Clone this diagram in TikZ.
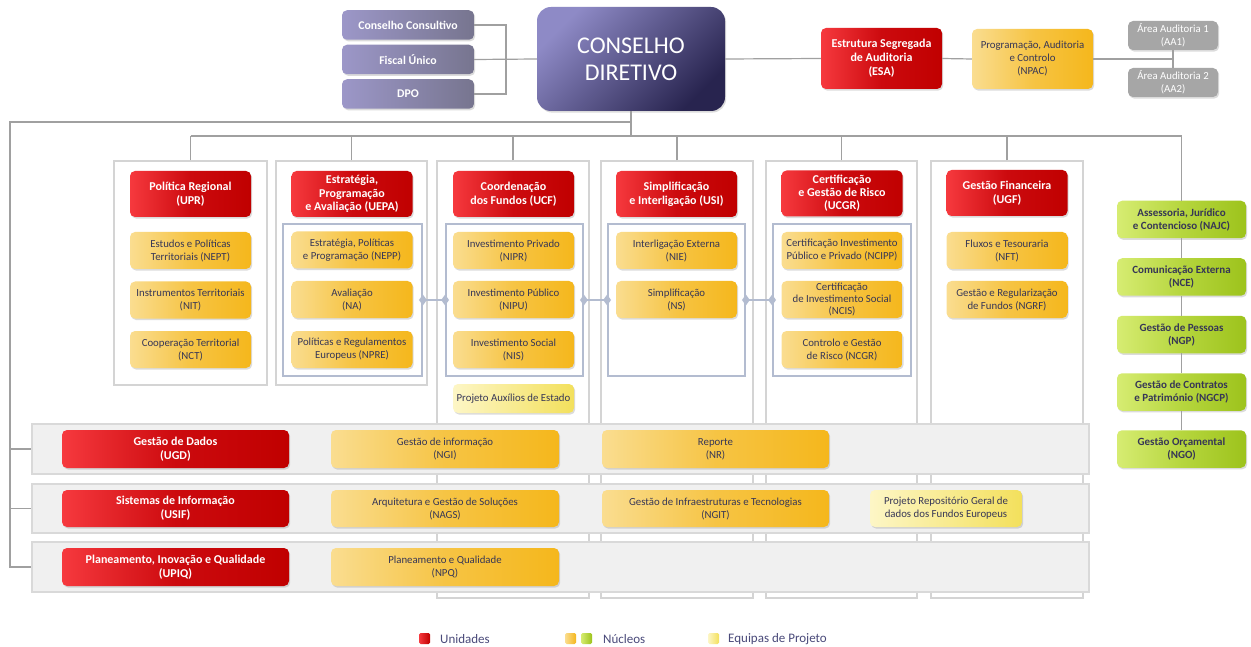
\documentclass[tikz,border=0pt]{standalone}
\usepackage{fontspec}
\setmainfont{Carlito}
\usetikzlibrary{shadows,shapes.geometric}
\definecolor{redL}{HTML}{F6393E}
\definecolor{redM}{HTML}{CC0A0E}
\definecolor{redR}{HTML}{C00000}
\definecolor{yelL}{HTML}{FADD90}
\definecolor{yelM}{HTML}{F6C444}
\definecolor{yelR}{HTML}{F5B71C}
\definecolor{ltyL}{HTML}{FDF6C6}
\definecolor{ltyR}{HTML}{F3E05C}
\definecolor{grnL}{HTML}{D6EC72}
\definecolor{grnM}{HTML}{B6D63E}
\definecolor{grnR}{HTML}{9DC31C}
\definecolor{sideL}{HTML}{9C97C8}
\definecolor{sideR}{HTML}{77758F}
\definecolor{cdL}{HTML}{8E8AC6}
\definecolor{cdR}{HTML}{28244F}
\definecolor{grayB}{HTML}{A6A6A6}
\definecolor{lineC}{HTML}{A0A0A0}
\definecolor{colC}{HTML}{D4D4D4}
\definecolor{rowF}{HTML}{F0F0F0}
\definecolor{rowC}{HTML}{D9D9D9}
\definecolor{frameC}{HTML}{B3BCD0}
\definecolor{txtC}{HTML}{363656}
\definecolor{legC}{HTML}{4A4A7A}
\begin{document}
\begin{tikzpicture}[x=1pt,y=-1pt,
  base/.style={rounded corners=5pt, align=center, inner sep=2pt,
    drop shadow={shadow xshift=1.2pt,shadow yshift=-1.6pt,opacity=.28}},
  unitbox/.style={base, left color=redL, right color=redR, middle color=redM,
    text=white, font=\fontsize{12}{14}\selectfont\bfseries,
    minimum width=121pt, minimum height=46pt},
  nucbox/.style={base, left color=yelL, right color=yelR, middle color=yelM,
    text=txtC, font=\fontsize{10.8}{13}\selectfont,
    minimum width=121pt, minimum height=37pt},
  projbox/.style={base, left color=ltyL, right color=ltyR,
    text=txtC, font=\fontsize{10.8}{13}\selectfont,
    minimum width=121pt, minimum height=29pt},
  grnbox/.style={base, left color=grnL, right color=grnR, middle color=grnM,
    text=txtC, font=\fontsize{11}{13}\selectfont\bfseries,
    minimum width=129pt, minimum height=37.5pt},
  sidebox/.style={base, left color=sideL, right color=sideR,
    text=white, font=\fontsize{11.8}{13}\selectfont\bfseries,
    minimum width=132pt, minimum height=29.5pt},
  graybox/.style={base, fill=grayB, text=white, font=\fontsize{10.8}{13}\selectfont,
    minimum width=90pt, minimum height=29pt},
  colbox/.style={draw=colC, fill=white, line width=1.4pt, inner sep=0pt},
  rowbox/.style={draw=rowC, fill=rowF, line width=1.4pt, inner sep=0pt,
    minimum width=1057pt},
  framebox/.style={draw=frameC, line width=1.8pt, inner sep=0pt, minimum height=152pt},
  conn/.style={draw=lineC, line width=1.2pt},
  fconn/.style={draw=frameC, line width=1.8pt},
  diam/.style={diamond, fill=frameC, inner sep=0pt, minimum width=8pt, minimum height=11pt},
  legsq/.style={minimum size=11pt, inner sep=0pt, rounded corners=1.5pt},
  legtxt/.style={anchor=west, text=legC, font=\fontsize{13}{15}\selectfont, inner sep=0pt}
]
\useasboundingbox (0,0) rectangle (1251,647);
\fill[white] (0,0) rectangle (1251,647);

% columns
\node[colbox, minimum width=153pt, minimum height=224pt] (col1) at (190.5,273) {};
\node[colbox, minimum width=151pt, minimum height=224pt] (col2) at (351.5,273) {};
\node[colbox, minimum width=152pt, minimum height=437pt] (col3) at (513,379.5) {};
\node[colbox, minimum width=152pt, minimum height=437pt] (col4) at (677,379.5) {};
\node[colbox, minimum width=151pt, minimum height=437pt] (col5) at (841.5,379.5) {};
\node[colbox, minimum width=152pt, minimum height=437pt] (col6) at (1007,379.5) {};

% rows
\node[rowbox, minimum height=50pt] (row1) at (560.5,449) {};
\node[rowbox, minimum height=49pt] (row2) at (560.5,508.5) {};
\node[rowbox, minimum height=50pt] (row3) at (560.5,567) {};

% frames
\node[framebox, minimum width=139pt] (f2) at (352.5,300) {};
\node[framebox, minimum width=137pt] (f3) at (514.5,300) {};
\node[framebox, minimum width=137pt] (f4) at (676.5,300) {};
\node[framebox, minimum width=138pt] (f5) at (842,300) {};

% top
\node[sidebox] (cc) at (408,25) {Conselho Consultivo};
\node[sidebox] (fu) at (408,59.5) {Fiscal Único};
\node[sidebox] (dpo) at (408,94) {DPO};
\node[base, rounded corners=14pt, top color=cdL, bottom color=cdR, shading angle=45,
  text=white, font=\fontsize{24}{27}\selectfont,
  minimum width=188pt, minimum height=104pt] (cd) at (631,59) {CONSELHO\\DIRETIVO};
\node[unitbox, minimum height=61pt] (esa) at (881.5,58.5) {Estrutura Segregada\\de Auditoria\\(ESA)};
\node[nucbox, minimum height=60pt] (npac) at (1032.5,59) {Programação, Auditoria\\e Controlo\\(NPAC)};
\node[graybox] (aa1) at (1173,35.5) {Área Auditoria 1\\(AA1)};
\node[graybox] (aa2) at (1173,82.5) {Área Auditoria 2\\(AA2)};

% column 1
\node[unitbox] (upr) at (190.5,194) {Política Regional\\(UPR)};
\node[nucbox] (nept) at (190.5,250.5) {Estudos e Políticas\\Territoriais (NEPT)};
\node[nucbox] (nit) at (190.5,300) {Instrumentos Territoriais\\(NIT)};
\node[nucbox] (nct) at (190.5,349.5) {Cooperação Territorial\\(NCT)};
% column 2
\node[unitbox, font=\fontsize{12}{13.5}\selectfont\bfseries] (uepa) at (352,194) {Estratégia,\\Programação\\e Avaliação (UEPA)};
\node[nucbox] (nepp) at (352,250) {Estratégia, Políticas\\e Programação (NEPP)};
\node[nucbox] (na) at (352,299.5) {Avaliação\\(NA)};
\node[nucbox] (npre) at (352,349.5) {Políticas e Regulamentos\\Europeus (NPRE)};
% column 3
\node[unitbox] (ucf) at (513.5,194) {Coordenação\\dos Fundos (UCF)};
\node[nucbox] (nipr) at (513.5,250.5) {Investimento Privado\\(NIPR)};
\node[nucbox] (nipu) at (513.5,299.5) {Investimento Público\\(NIPU)};
\node[nucbox] (nis) at (513.5,349.5) {Investimento Social\\(NIS)};
\node[projbox] (pae) at (513.5,398.5) {Projeto Auxílios de Estado};
% column 4
\node[unitbox] (usi) at (676.5,194) {Simplificação\\e Interligação (USI)};
\node[nucbox] (nie) at (676.5,250.5) {Interligação Externa\\(NIE)};
\node[nucbox] (ns) at (676.5,299.5) {Simplificação\\(NS)};
% column 5
\node[unitbox, font=\fontsize{12}{13}\selectfont\bfseries] (ucgr) at (842,193.5) {Certificação\\e Gestão de Risco\\(UCGR)};
\node[nucbox] (ncipp) at (842,250.5) {Certificação Investimento\\Público e Privado (NCIPP)};
\node[nucbox, font=\fontsize{10.8}{12}\selectfont] (ncis) at (842,299.5) {Certificação\\de Investimento Social\\(NCIS)};
\node[nucbox] (ncgr) at (842,349.5) {Controlo e Gestão\\de Risco (NCGR)};
% column 6
\node[unitbox] (ugf) at (1007,193) {Gestão Financeira\\(UGF)};
\node[nucbox] (nft) at (1007,250.5) {Fluxos e Tesouraria\\(NFT)};
\node[nucbox] (ngrf) at (1007,299.5) {Gestão e Regularização\\de Fundos (NGRF)};

% bottom rows
\node[unitbox, minimum width=227pt, minimum height=38pt] (ugd) at (175.5,449) {Gestão de Dados\\(UGD)};
\node[nucbox, minimum width=228pt, minimum height=38pt] (ngi) at (445,449) {Gestão de informação\\(NGI)};
\node[nucbox, minimum width=227pt, minimum height=38pt] (nr) at (715.5,449) {Reporte\\(NR)};
\node[unitbox, minimum width=227pt, minimum height=37pt] (usif) at (175.5,508.5) {Sistemas de Informação\\(USIF)};
\node[nucbox, minimum width=228pt, minimum height=37pt] (nags) at (445,508.5) {Arquitetura e Gestão de Soluções\\(NAGS)};
\node[nucbox, minimum width=227pt, minimum height=37pt] (ngit) at (715.5,508.5) {Gestão de Infraestruturas e Tecnologias\\(NGIT)};
\node[projbox, minimum width=152pt, minimum height=37pt] (prg) at (946,508.5) {Projeto Repositório Geral de\\dados dos Fundos Europeus};
\node[unitbox, minimum width=227pt, minimum height=38pt] (upiq) at (175.5,567) {Planeamento, Inovação e Qualidade\\(UPIQ)};
\node[nucbox, minimum width=228pt, minimum height=38pt] (npq) at (445,567) {Planeamento e Qualidade\\(NPQ)};

% green
\node[grnbox] (najc) at (1181.5,219.5) {Assessoria, Jurídico\\e Contencioso (NAJC)};
\node[grnbox] (nce) at (1181.5,277) {Comunicação Externa\\(NCE)};
\node[grnbox] (ngp) at (1181.5,334.5) {Gestão de Pessoas\\(NGP)};
\node[grnbox] (ngcp) at (1181.5,392) {Gestão de Contratos\\e Património (NGCP)};
\node[grnbox] (ngo) at (1181.5,449) {Gestão Orçamental\\(NGO)};

% connectors
\coordinate (sj) at (506,59);
\draw[conn] (cc.east) -| (sj) |- (dpo.east);
\draw[conn] (fu.east) -- (cd.west);
\draw[conn] (cd.east) -- (esa.west);
\draw[conn] (esa.east) -- (npac.west);
\coordinate (aj) at (1173,59);
\draw[conn] (npac.east) -- (aj);
\draw[conn] (aa1.south) -- (aa2.north);

\coordinate (tj) at (631,122);
\coordinate (lj) at (10,122);
\coordinate (bj) at (631,136);
\draw[conn] (cd.south) -- (bj);
\draw[conn] (tj) -- (lj) -- (lj |- row3.west) -- (row3.west);
\draw[conn] (lj |- row1.west) -- (row1.west);
\draw[conn] (lj |- row2.west) -- (row2.west);
\draw[conn] (col1.north |- bj) -- (najc.north |- bj) -- (najc.north);
\foreach \c in {col1,col2,col3,col4,col5,col6}
  \draw[conn] (\c.north) -- (\c.north |- bj);
\draw[conn] (najc.south) -- (nce.north);
\draw[conn] (nce.south) -- (ngp.north);
\draw[conn] (ngp.south) -- (ngcp.north);
\draw[conn] (ngcp.south) -- (ngo.north);

\draw[fconn] (f2.east) -- (f3.west);
\draw[fconn] (f3.east) -- (f4.west);
\draw[fconn] (f4.east) -- (f5.west);
\node[diam] (d1) at (f2.east) {};
\node[diam] (d2) at (f3.west) {};
\node[diam] (d3) at (f3.east) {};
\node[diam] (d4) at (f4.west) {};
\node[diam] (d5) at (f4.east) {};
\node[diam] (d6) at (f5.west) {};

% legend
\node[legsq, left color=redL, right color=redR] (lr) at (424.5,638.5) {};
\node[legtxt] (lu) at (440,639) {Unidades};
\node[legsq, left color=yelL, right color=yelR] (ly) at (570.5,638.5) {};
\node[legsq, left color=grnL, right color=grnR] (lg) at (586.5,638.5) {};
\node[legtxt] (ln) at (603,639) {Núcleos};
\node[legsq, left color=ltyL, right color=ltyR] (lp) at (713.5,638.5) {};
\node[legtxt] (le) at (728,639) {Equipas de Projeto};
\end{tikzpicture}
\end{document}
